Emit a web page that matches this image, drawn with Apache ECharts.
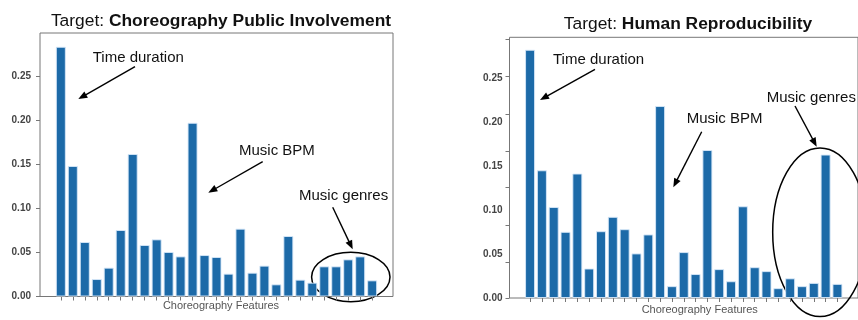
<!DOCTYPE html>
<html>
<head>
<meta charset="utf-8">
<script src="https://cdn.jsdelivr.net/npm/echarts@6/dist/echarts.min.js"></script>
<style>
  html, body { margin: 0; padding: 0; background: #fff; }
  #chart { width: 858px; height: 320px; }
</style>
</head>
<body>
<div id="chart"></div>
<script>
// ---- data ----
const featureIdx = [0,1,2,3,4,5,6,7,8,9,10,11,12,13,14,15,16,17,18,19,20,21,22,23,24,25,26];
const leftTitle = 'Choreography Public Involvement';
const rightTitle = 'Human Reproducibility';
const xAxisName = 'Choreography Features';
const leftValues = [0.2832, 0.148, 0.0618, 0.0198, 0.0327, 0.0754, 0.1616, 0.0584, 0.0648, 0.0505,
                    0.0455, 0.197, 0.047, 0.0448, 0.0259, 0.0769, 0.027, 0.035, 0.0138, 0.0686,
                    0.0191, 0.0157, 0.0342, 0.0342, 0.0421, 0.0455, 0.0183];
const rightValues = [0.2828, 0.1455, 0.1037, 0.0754, 0.1418, 0.0336, 0.0761, 0.0925, 0.0784, 0.0508,
                     0.0724, 0.2187, 0.0135, 0.0523, 0.0273, 0.1686, 0.0329, 0.0191, 0.1045, 0.0351,
                     0.0306, 0.0112, 0.0224, 0.0135, 0.0172, 0.1634, 0.0161];
const yTickLabels = [0, 0.05, 0.10, 0.15, 0.20, 0.25];
// tick marks of the right panel (they sit off the label positions in the reference)
const rightTickMarks = [0, 0.0411, 0.0833, 0.1261, 0.1672, 0.2093, 0.2523, 0.2948];
const annotations = ['Time duration', 'Music BPM', 'Music genres'];

const FONT = 'Liberation Sans, Arial, Helvetica, sans-serif';
const BAR = '#1c6aa8';
const AXC = '#777';

const chart = echarts.init(document.getElementById('chart'), null, { renderer: 'canvas' });

function arrow(x1, y1, x2, y2) {
  const dx = x2 - x1, dy = y2 - y1, L = Math.hypot(dx, dy), ux = dx / L, uy = dy / L;
  const hl = 9, hw = 3.6;
  const bx = x2 - ux * hl, by = y2 - uy * hl;
  return [
    { type: 'line', silent: true, shape: { x1: x1, y1: y1, x2: bx + ux, y2: by + uy }, style: { stroke: '#000', lineWidth: 1.4 } },
    { type: 'polygon', silent: true, shape: { points: [[x2, y2], [bx - uy * hw, by + ux * hw], [bx + uy * hw, by - ux * hw]] }, style: { fill: '#000' } }
  ];
}
function label(text, x, y) {
  return { type: 'text', silent: true, style: { text: text, x: x, y: y, fill: '#111', fontSize: 15, fontFamily: FONT, align: 'left', verticalAlign: 'middle' } };
}
function titleText(bold, cx, cy) {
  return {
    type: 'text', silent: true,
    style: {
      text: '{n|Target: }{b|' + bold + '}', x: cx, y: cy, align: 'center', verticalAlign: 'middle',
      rich: {
        n: { fontSize: 17.4, fontFamily: FONT, fill: '#111' },
        b: { fontSize: 17.4, fontFamily: FONT, fontWeight: 'bold', fill: '#111' }
      }
    }
  };
}

function xAxisCfg(gridIndex, padLeft, gap) {
  return {
    type: 'value', gridIndex: gridIndex, min: -1.74, max: 27.74,
    axisLine: { show: false, onZero: false },
    axisTick: { show: true, customValues: featureIdx, length: 4, lineStyle: { color: AXC } },
    axisLabel: { show: false },
    splitLine: { show: false },
    name: xAxisName, nameLocation: 'middle', nameGap: gap,
    nameTextStyle: { fontSize: 11, fontFamily: FONT, color: '#555', padding: [0, 0, 0, padLeft] }
  };
}
function yAxisCfg(gridIndex, max, ticks, margin) {
  return {
    type: 'value', gridIndex: gridIndex, min: 0, max: max, position: 'left',
    axisLine: { show: false, onZero: false },
    axisTick: { show: true, customValues: ticks, length: 4, lineStyle: { color: AXC } },
    axisLabel: { show: true, customValues: yTickLabels, margin: margin, fontSize: 10, fontWeight: 'bold',
                 fontFamily: FONT, color: '#444',
                 formatter: function (v) { return v.toFixed(2); } },
    splitLine: { show: false }
  };
}

const graphics = [].concat(
  titleText(leftTitle, 221, 21),
  titleText(rightTitle, 688, 24),
  label(annotations[0], 92.7, 57.7), arrow(135, 66.7, 78.3, 99),
  label(annotations[1], 239, 151), arrow(262.7, 161.7, 208.3, 192.7),
  label(annotations[2], 299, 196), arrow(332.7, 207.3, 352.7, 249.3),
  { type: 'ellipse', silent: true, shape: { cx: 350.8, cy: 277, rx: 39.2, ry: 24.7 }, style: { fill: 'none', stroke: '#000', lineWidth: 1.5 } },
  label(annotations[0], 553, 60), arrow(595, 69.3, 540, 100),
  label(annotations[1], 686.7, 119), arrow(701.7, 131.7, 673.3, 187.3),
  label(annotations[2], 766.7, 97.7), arrow(795, 106, 816.7, 146.7),
  { type: 'ellipse', silent: true, shape: { cx: 820, cy: 232.3, rx: 47.3, ry: 84.3 }, style: { fill: 'none', stroke: '#000', lineWidth: 1.5 } }
);

const option = {
  animation: false,
  backgroundColor: '#fff',
  grid: [
    { left: 40, top: 33, width: 353, height: 263.5, show: true, borderColor: AXC, borderWidth: 1, backgroundColor: 'transparent' },
    { left: 509.5, top: 37.3, width: 357.3, height: 265.4, show: true, borderColor: AXC, borderWidth: 1, backgroundColor: 'transparent' }
  ],
  xAxis: [ xAxisCfg(0, 9, 4), xAxisCfg(1, 32, 6) ],
  yAxis: [ yAxisCfg(0, 0.2988, yTickLabels, 9), yAxisCfg(1, 0.297, rightTickMarks, 7) ],
  series: [
    { type: 'bar', xAxisIndex: 0, yAxisIndex: 0, barWidth: 10,
      itemStyle: { color: BAR, borderColor: 'rgba(215,232,248,0.9)', borderWidth: 1 },
      data: featureIdx.map(function (x, i) { return [x, leftValues[i]]; }) },
    { type: 'bar', xAxisIndex: 1, yAxisIndex: 1, barWidth: 10,
      itemStyle: { color: BAR, borderColor: 'rgba(215,232,248,0.9)', borderWidth: 1 },
      data: featureIdx.map(function (x, i) { return [x, rightValues[i]]; }) }
  ],
  graphic: graphics
};
chart.setOption(option);
</script>
</body>
</html>
